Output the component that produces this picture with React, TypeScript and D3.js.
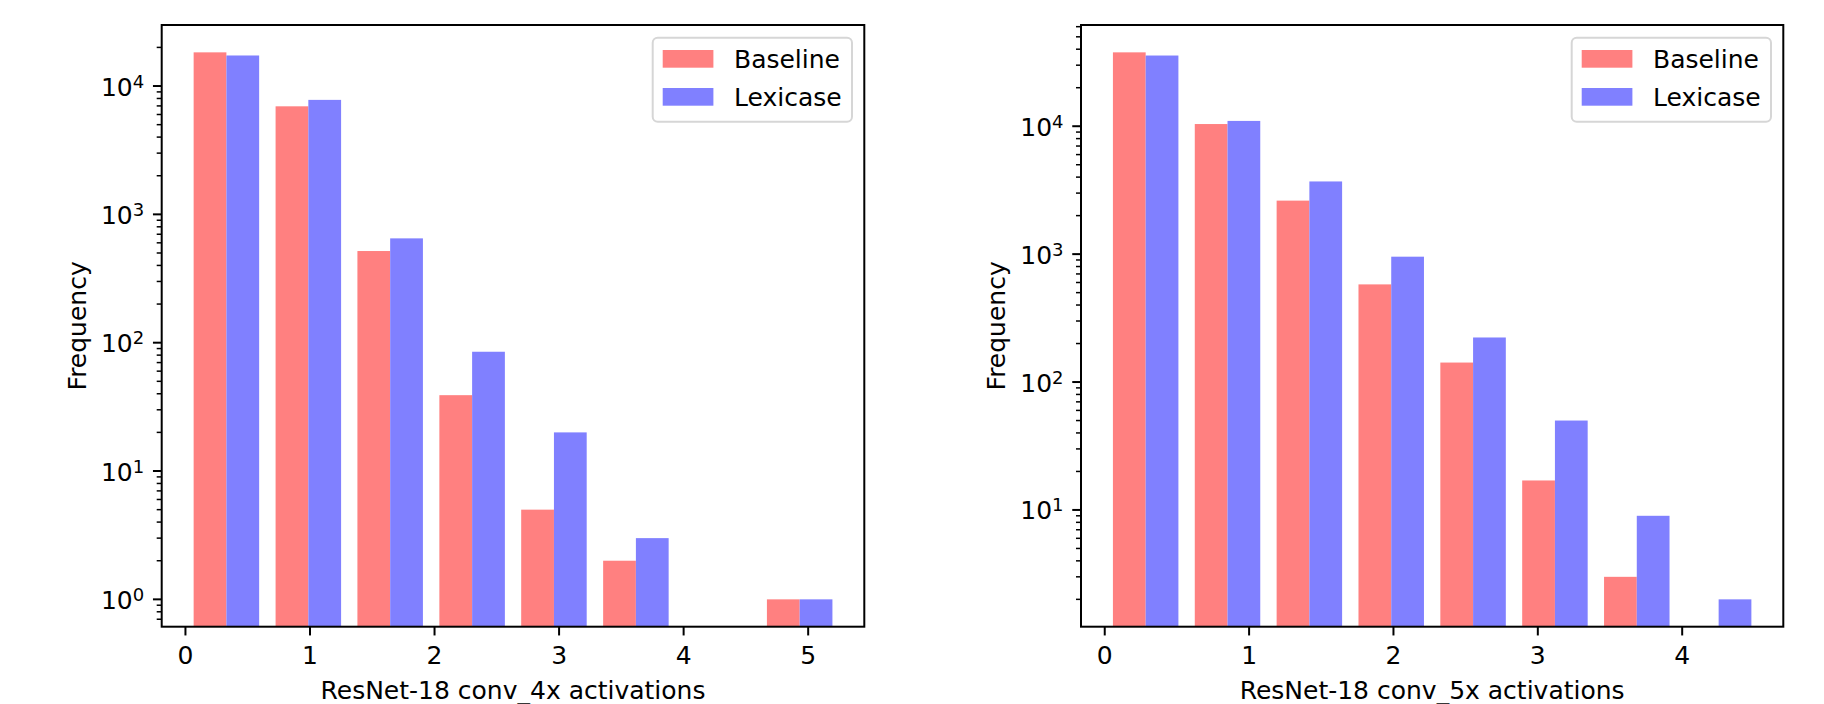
import React, { useEffect, useRef } from "react";
import * as d3 from "d3";

// histogram bins (bin edges) and counts
const conv4Edges = [0, 0.658, 1.315, 1.973, 2.63, 3.288, 3.945, 4.603, 5.26];
const conv4Baseline = [18300, 6950, 518, 39, 5, 2, 0, 1];
const conv4Lexicase = [17300, 7800, 650, 85, 20, 3, 0, 1];
const conv4Ticks = [0, 1, 2, 3, 4, 5];

const conv5Edges = [0, 0.567, 1.134, 1.701, 2.268, 2.835, 3.402, 3.969, 4.536];
const conv5Baseline = [37800, 10400, 2620, 580, 142, 17, 3, 0];
const conv5Lexicase = [35700, 11000, 3700, 955, 223, 50, 9, 2];
const conv5Ticks = [0, 1, 2, 3, 4];

const seriesNames = ["Baseline", "Lexicase"];
const seriesColors = ["#ff8080", "#8080ff"];

const W = 1824;
const H = 704;
const FONT = "DejaVu Sans, sans-serif";
const FS = 25;

type Panel = {
  edges: number[];
  series: number[][];
  ticks: number[];
  xLabel: string;
  left: number;
  right: number;
};

const panels: Panel[] = [
  { edges: conv4Edges, series: [conv4Baseline, conv4Lexicase], ticks: conv4Ticks, xLabel: "ResNet-18 conv_4x activations", left: 161.7, right: 864.3 },
  { edges: conv5Edges, series: [conv5Baseline, conv5Lexicase], ticks: conv5Ticks, xLabel: "ResNet-18 conv_5x activations", left: 1081, right: 1783.3 },
];

const TOP = 25;
const BOTTOM = 626.7;

function drawPanel(svg: d3.Selection<SVGSVGElement, unknown, null, undefined>, p: Panel) {
  const g = svg.append("g");
  const nb = p.edges.length - 1;
  const bw = (p.edges[nb] - p.edges[0]) / nb;

  // x limits like matplotlib: bar extent + 5% margins
  const x0 = p.edges[0] + 0.1 * bw;
  const x1 = p.edges[nb] - 0.1 * bw;
  const xm = (x1 - x0) * 0.05;
  const x = d3.scaleLinear().domain([x0 - xm, x1 + xm]).range([p.left, p.right]);

  const all = p.series.flat().filter((v) => v > 0);
  const lmin = Math.log10(d3.min(all)!);
  const lmax = Math.log10(d3.max(all)!);
  const lm = (lmax - lmin) * 0.05;
  const y = d3.scaleLog().domain([Math.pow(10, lmin - lm), Math.pow(10, lmax + lm)]).range([BOTTOM, TOP]);

  // bars
  p.series.forEach((counts, si) => {
    g.append("g")
      .selectAll("rect")
      .data(counts.map((c, i) => ({ c, i })).filter((d) => d.c > 0))
      .join("rect")
      .attr("x", (d) => x(p.edges[d.i] + 0.1 * bw + si * 0.4 * bw))
      .attr("width", (d) => x(p.edges[d.i] + 0.5 * bw) - x(p.edges[d.i] + 0.1 * bw))
      .attr("y", (d) => y(d.c))
      .attr("height", (d) => BOTTOM - y(d.c))
      .attr("fill", seriesColors[si]);
  });

  // spines
  g.append("rect")
    .attr("x", p.left)
    .attr("y", TOP)
    .attr("width", p.right - p.left)
    .attr("height", BOTTOM - TOP)
    .attr("fill", "none")
    .attr("stroke", "#000")
    .attr("stroke-width", 2);

  // x ticks
  const xt = g.append("g").selectAll("g").data(p.ticks).join("g")
    .attr("transform", (d) => `translate(${x(d)},${BOTTOM})`);
  xt.append("line").attr("y1", 0).attr("y2", 8.75).attr("stroke", "#000").attr("stroke-width", 2);
  xt.append("text")
    .attr("y", 37)
    .attr("text-anchor", "middle")
    .attr("font-family", FONT)
    .attr("font-size", FS)
    .attr("fill", "#000")
    .text((d) => d);

  // y ticks (log)
  const [dLo, dHi] = y.domain();
  const majors: number[] = [];
  const minors: number[] = [];
  for (let e = Math.floor(Math.log10(dLo)); e <= Math.ceil(Math.log10(dHi)); e++) {
    for (let m = 1; m < 10; m++) {
      const v = m * Math.pow(10, e);
      if (v < dLo || v > dHi) continue;
      if (m === 1) majors.push(e);
      else minors.push(v);
    }
  }
  g.append("g").selectAll("line").data(minors).join("line")
    .attr("x1", p.left).attr("x2", p.left - 5)
    .attr("y1", (d) => y(d)).attr("y2", (d) => y(d))
    .attr("stroke", "#000").attr("stroke-width", 1.5);
  const yt = g.append("g").selectAll("g").data(majors).join("g")
    .attr("transform", (e) => `translate(${p.left},${y(Math.pow(10, e))})`);
  yt.append("line").attr("x1", 0).attr("x2", -8.75).attr("stroke", "#000").attr("stroke-width", 2);
  const lbl = yt.append("text")
    .attr("x", -17.5)
    .attr("y", 9.5)
    .attr("text-anchor", "end")
    .attr("font-family", FONT)
    .attr("font-size", FS)
    .attr("fill", "#000");
  lbl.append("tspan").text("10");
  lbl.append("tspan").attr("font-size", 18).attr("dy", -8).text((e) => e);

  // axis labels
  g.append("text")
    .attr("x", (p.left + p.right) / 2)
    .attr("y", 699)
    .attr("text-anchor", "middle")
    .attr("font-family", FONT)
    .attr("font-size", FS)
    .attr("fill", "#000")
    .text(p.xLabel);
  g.append("text")
    .attr("transform", `translate(${p.left - 75.7},${(TOP + BOTTOM) / 2}) rotate(-90)`)
    .attr("text-anchor", "middle")
    .attr("font-family", FONT)
    .attr("font-size", FS)
    .attr("fill", "#000")
    .text("Frequency");

  // legend
  const lw = 199.3;
  const lh = 84;
  const lx = p.right - 12.3 - lw;
  const ly = TOP + 12.7;
  const leg = g.append("g").attr("transform", `translate(${lx},${ly})`);
  leg.append("rect")
    .attr("width", lw).attr("height", lh).attr("rx", 5)
    .attr("fill", "#fff").attr("fill-opacity", 0.8)
    .attr("stroke", "#d6d6d6").attr("stroke-width", 2);
  seriesNames.forEach((name, i) => {
    leg.append("rect")
      .attr("x", 10).attr("y", 12.3 + i * 38)
      .attr("width", 50.7).attr("height", 17.7)
      .attr("fill", seriesColors[i]);
    leg.append("text")
      .attr("x", 81.3).attr("y", 12.3 + i * 38 + 8.85 + 9)
      .attr("font-family", FONT)
      .attr("font-size", FS)
      .attr("fill", "#000")
      .text(name);
  });
}

const App = () => {
  const ref = useRef<SVGSVGElement>(null);

  useEffect(() => {
    const svg = d3.select(ref.current!);
    svg.selectAll("*").remove();
    svg.append("rect").attr("width", W).attr("height", H).attr("fill", "#fff");
    panels.forEach((p) => drawPanel(svg, p));
  }, []);

  return (
    <svg
      ref={ref}
      width={W}
      height={H}
      style={{ position: "absolute", left: 0, top: 0, display: "block" }}
    />
  );
};

export default App;
